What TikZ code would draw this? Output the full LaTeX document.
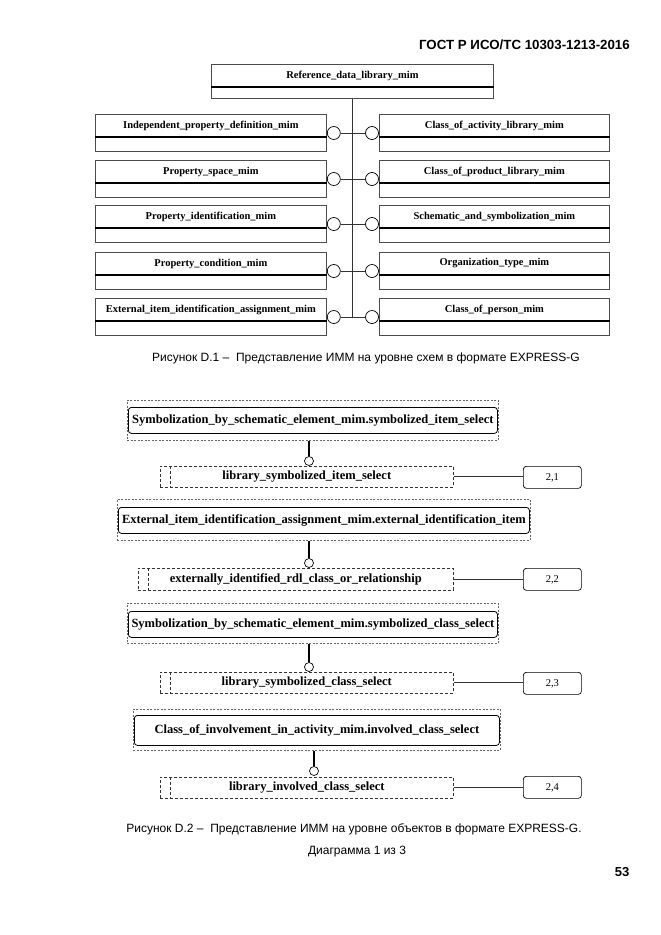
\documentclass[tikz,border=0pt]{standalone}
\usepackage{fontspec}
\setmainfont{Liberation Serif}
\newfontfamily\capfont{Liberation Sans}
\begin{document}
\begin{tikzpicture}[x=1pt,y=-1pt,
  box/.style={draw=black!70, line width=0.8pt, anchor=north west, inner sep=0pt},
  sepline/.style={line width=1.1pt},
  lnk/.style={draw=black!80, line width=0.7pt},
  circ/.style={circle, draw=black, line width=0.7pt, fill=white, minimum size=13pt, inner sep=0pt},
  cname/.style={font=\fontsize{10.5}{11}\selectfont\bfseries, inner sep=0pt},
  grp/.style={draw=black!60, dash pattern=on 2pt off 1.5pt, line width=0.6pt, anchor=north west, inner sep=0pt},
  inr/.style={draw=black, rounded corners=3pt, line width=0.8pt, anchor=north west, inner sep=0pt},
  tname/.style={font=\fontsize{12.5}{13}\selectfont\bfseries, inner sep=0pt},
  sel/.style={draw=black!80, dash pattern=on 3pt off 2pt, line width=0.6pt, anchor=north west, inner sep=0pt},
  numbox/.style={draw=black, rounded corners=3pt, line width=0.7pt, anchor=north west, inner sep=0pt, minimum width=58pt, minimum height=22pt, font=\fontsize{10.5}{11}\selectfont},
  scirc/.style={circle, draw=black, line width=0.7pt, fill=white, minimum size=9pt, inner sep=0pt},
  thk/.style={line width=2.6pt},
  captxt/.style={font=\capfont\fontsize{12}{14}\selectfont, inner sep=0pt}
]
\path[use as bounding box] (0,0) rectangle (661,935);

% header
\node[font=\capfont\bfseries\fontsize{13.3}{15}\selectfont, anchor=east, inner sep=0pt] (hdr) at (630,45) {ГОСТ Р ИСО/ТС 10303-1213-2016};

% ---------- Figure D.1 ----------
\node[box, minimum width=282pt, minimum height=34pt] (ref) at (211,64) {};
\draw[sepline] ([yshift=-23pt]ref.north west) -- ([yshift=-23pt]ref.north east);
\node[cname] (reft) at ([yshift=-11.5pt]ref.north) {Reference\_data\_library\_mim};

\foreach \t/\ln/\rn/\i in {
  114/Independent\_property\_definition\_mim/Class\_of\_activity\_library\_mim/1,
  160/Property\_space\_mim/Class\_of\_product\_library\_mim/2,
  205/Property\_identification\_mim/Schematic\_and\_symbolization\_mim/3,
  252/Property\_condition\_mim/Organization\_type\_mim/4,
  298/External\_item\_identification\_assignment\_mim/Class\_of\_person\_mim/5} {
  \node[box, minimum width=231pt, minimum height=37pt] (L\i) at (95,\t) {};
  \draw[sepline] ([yshift=-23pt]L\i.north west) -- ([yshift=-23pt]L\i.north east);
  \node[cname] (Lt\i) at ([yshift=-11.5pt]L\i.north) {\ln};
  \node[box, minimum width=230pt, minimum height=37pt] (R\i) at (379,\t) {};
  \draw[sepline] ([yshift=-23pt]R\i.north west) -- ([yshift=-23pt]R\i.north east);
  \node[cname] (Rt\i) at ([yshift=-11.5pt]R\i.north) {\rn};
  \node[circ] (LC\i) at ([xshift=7pt,yshift=-19pt]L\i.north east) {};
  \node[circ] (RC\i) at ([xshift=-7pt,yshift=-19pt]R\i.north west) {};
  \draw[lnk] (LC\i) -- (RC\i);
}
\draw[lnk] (ref.south) -- (ref.south |- LC5.center);

\node[captxt] (cap1) at (366,358) {Рисунок D.1 –\ \ Представление ИММ на уровне схем в формате EXPRESS-G};

% ---------- Figure D.2 ----------
\foreach \gx/\gy/\gw/\gh/\iy/\ih/\tx/\txt/\cy/\sx/\sy/\sh/\vx/\stxt/\ny/\num/\i in {
  127/400/371/40/407/26/309/Symbolization\_by\_schematic\_element\_mim.symbolized\_item\_select/461/160/466/21/170/library\_symbolized\_item\_select/466/{2,1}/1,
  117/499/413/41/507/26/309/External\_item\_identification\_assignment\_mim.external\_identification\_item/563/138/568/22/148/externally\_identified\_rdl\_class\_or\_relationship/568/{2,2}/2,
  127/603/371/40/611/26/309/Symbolization\_by\_schematic\_element\_mim.symbolized\_class\_select/667/160/672/21/170/library\_symbolized\_class\_select/672/{2,3}/3,
  133/709/367/41/715/30/314/Class\_of\_involvement\_in\_activity\_mim.involved\_class\_select/771/160/777/21/170/library\_involved\_class\_select/776/{2,4}/4} {
  \node[grp, minimum width=\gw pt, minimum height=\gh pt] (G\i) at (\gx,\gy) {};
  \node[inr, minimum width=\gw pt-2pt, minimum height=\ih pt, tname] (I\i) at (\gx+1,\iy) {\txt};
  \node[scirc] (C\i) at (\tx,\cy) {};
  \draw[thk] (C\i.north |- G\i.south) -- (C\i.north);
  \node[sel, minimum width=453pt-\sx pt, minimum height=\sh pt] (S\i) at (\sx,\sy) {};
  \draw[sel] (\vx,\sy) -- (\vx,\sy+\sh);
  \node[tname] (St\i) at (S\i.center) {\stxt};
  \node[numbox] (N\i) at (523,\ny) {\num};
  \draw[lnk] (S\i.east) -- (S\i.east -| N\i.west);
}

\node[captxt] (cap2) at (354,829) {Рисунок D.2 –\ \ Представление ИММ на уровне объектов в формате EXPRESS-G.};
\node[captxt] (cap3) at (357,852) {Диаграмма 1 из 3};
\node[font=\capfont\bfseries\fontsize{13}{15}\selectfont, inner sep=0pt] (pg) at (622,872) {53};
\end{tikzpicture}
\end{document}
